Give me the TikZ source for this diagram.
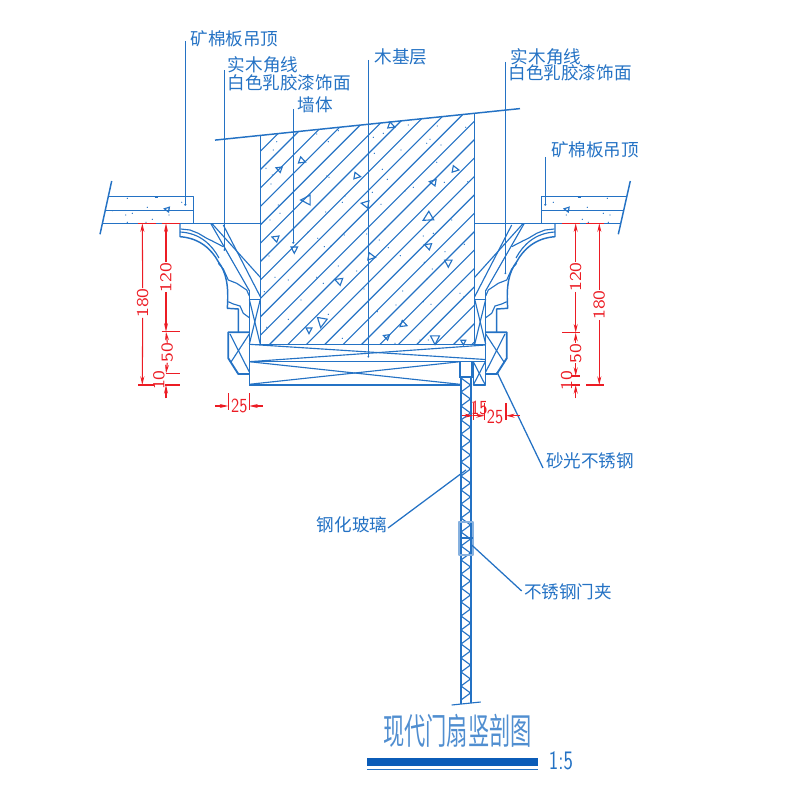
\documentclass[tikz,border=0pt]{standalone}
\usepackage{fontspec}
\newfontfamily\cjk{Noto Sans CJK SC}
\usetikzlibrary{arrows.meta}
\definecolor{cadblue}{HTML}{2472C4}
\definecolor{cadred}{HTML}{EC1C24}
\definecolor{barblue}{HTML}{0B5CB8}
\tikzset{
  part/.style={draw=cadblue, line width=1.1pt, line join=round},
  thin part/.style={draw=cadblue, line width=.85pt},
  leader/.style={draw=cadblue, line width=.95pt},
  dim/.style={draw=cadred, line width=.8pt},
  dimtip/.style={dim, -{Stealth[length=6.5pt,width=3pt,cadred]}},
  label/.style={text=cadblue, font=\cjk\fontsize{13.2}{14}\selectfont, inner sep=0pt},
  dimtext/.style={text=cadred, font=\sffamily\fontsize{15}{15}\selectfont, inner sep=0pt, xscale=.83},
}
\newcommand{\speck}[2]{\fill[cadblue] (#1,#2) circle[radius=.65];}
\newcommand{\triang}[4]{\draw[thin part] ([shift={(#1,#2)}]#4:#3) -- ([shift={(#1,#2)}]#4+125:#3) -- ([shift={(#1,#2)}]#4+235:#3) -- cycle;}
% one moulding, left hand; the right one is its mirror image
\newcommand{\moulding}{
\draw[part] (180,223.3) -- (180,236.7) .. controls (200,238) and (212,250) .. (218.3,261.7)
  .. controls (226,272) and (229,285) .. (227.3,308.3) -- (238.3,309) -- (238.3,332.3);
\draw[thin part] (180,232) .. controls (200,233) and (212,245) .. (219,258);
\draw[thin part] (180.7,229) -- (190,230) -- (198.3,233.3) -- (206.7,238.3) -- (211.7,240.7) -- (223.3,246.7);
\draw[thin part] (218.3,263.3) -- (223.3,269) -- (228.3,280) -- (236.7,283.3) -- (246.7,290) -- (249.3,296);
\draw[thin part] (228.3,301.7) -- (233.3,304) -- (240,306) -- (243.3,313.3) -- (249.3,317.7);
\draw[thin part] (211.7,223.3) -- (260.3,277.3);
\draw[thin part] (210.7,223.3) -- (249.3,290.7);
\draw[thin part] (223.3,225) -- (260.3,296.7);
\draw[part] (249.3,290) -- (249.3,344.3);
\draw[part] (249.3,299.3) -- (260.3,299.3);
\draw[thin part] (249.3,299.3) -- (260.3,344.3);
\draw[thin part] (260.3,299.3) -- (249.3,344.3);
\draw[part, line width=1.4pt] (249.3,332.3) -- (228.3,332.3) -- (228.3,358.3) -- (238.3,374) -- (249.3,374);
\draw[thin part] (230,334) -- (249.3,372);
\draw[thin part] (249.3,334) -- (231,362);
}
\begin{document}
\begin{tikzpicture}[x=.75pt,y=-.75pt]
\useasboundingbox (0,0) rectangle (804,806);
% wall
\begin{scope}
\clip (260.3,135.5) -- (474.3,113.3) -- (474.3,344.3) -- (260.3,344.3) -- cycle;
\foreach \k in {-12,...,11}{
  \pgfmathsetmacro{\c}{614+18.4*\k}
  \draw[thin part] (\c-90,90) -- (\c-360,360);
}
\end{scope}
\draw[part] (215,140.1) -- (520,108.6);
\draw[part] (260.3,135.5) -- (260.3,344.3);
\draw[part] (474.3,113.3) -- (474.3,344.3);
\foreach \x/\y/\r/\a in {
  279.3/169/3.6/200, 301.7/160.7/4/20, 306.7/200/6/180, 356.7/176/4/10, 365.7/204/4.5/190,
  275.7/238.3/4/200, 294.3/249.3/4/90, 339/281/4.5/200, 371/256.7/4.5/10, 428.3/217.3/6/150,
  428.3/246/4/200, 448.3/262.7/4.5/90, 433.3/182.3/4/190, 455/169.3/4/10, 391/125.7/4/20,
  309/330/3.6/90, 321.7/321.7/6/100, 386.7/336.7/3.5/200, 403.3/324.3/4/20, 435/339/5.5/90, 463.3/342/3/90}
  {\triang{\x}{\y}{\r}{\a}}
\foreach \x/\y in {
  276.7/141.7, 273.3/150, 266/168.3, 272.3/175, 271/184, 278.3/205, 280/213.3, 270/220,
  269/256, 275/277.3, 288.3/280, 264.3/291.7, 301/300, 288.3/319.3, 266.7/327.3, 316.7/134,
  328.3/141.7, 338.3/130.7, 326.7/176, 329/177.3, 345/196, 342.3/202.3, 325.7/212, 307.7/232.3,
  317.7/238.3, 324.3/246.7, 331/246, 344.3/235, 338.3/266, 356.7/271, 364/289, 323.3/283.3,
  316.7/277.3, 328.3/314.3, 342.3/338.3, 373.3/137.3, 383.3/133.3, 408.3/125, 437.3/126, 465.7/127.3,
  426.7/143.3, 430/139.3, 441/145, 401/150, 374.3/153.3, 382.3/169.3, 387.3/179.3, 372.3/192.3,
  381/204.3, 405/191, 413.3/187.3, 436.7/162.3, 444.3/182.3, 467.7/181.7, 451.7/220, 385/229,
  379.3/240, 366.7/234, 388.3/247.7, 400.3/255.7, 423.3/236, 433.3/233.3, 464.3/244.3, 445/251.7,
  424.3/262.3, 432.3/269, 426.7/279.3, 402.7/291, 460/293.3, 464/296.7, 423.3/301.7, 431/304.3,
  396/305, 377.3/311.7, 420/340, 428.3/340, 395/343.3}
  {\speck{\x}{\y}}
% left slab
\coordinate (brkL1) at (111.7,181);
\coordinate (brkL2) at (100,234.3);
\draw[part] (brkL1) -- (brkL2);
\draw[part] (109,196.7) -- (193.7,196.7) -- (193.7,223.3);
\draw[part] (105.7,210.3) -- (193.7,210.3);
\draw[part] (102.7,223.3) -- (260.3,223.3);
\draw[thin part] (154.5,197.3) -- (157.5,197.3);
\triang{167.3}{209.3}{3}{190}
\foreach \x/\y in {127.3/198.3, 147.3/207.3, 181.7/202.3, 112.3/210.7, 125.7/215, 132.3/213.3,
  168.7/209, 169/215, 152.3/219.3, 127.3/222.3, 146/222.3}
  {\speck{\x}{\y}}
% right slab
\coordinate (brkR1) at (630.3,181);
\coordinate (brkR2) at (618.3,234.3);
\draw[part] (brkR1) -- (brkR2);
\draw[part] (626,196.7) -- (541.3,196.7) -- (541.3,223.3);
\draw[part] (624,210.3) -- (541.3,210.3);
\draw[part] (621,223.3) -- (474.3,223.3);
\draw[thin part] (577.5,197.3) -- (580.5,197.3);
\triang{567}{209.3}{3}{190}
\foreach \x/\y in {553.3/202.3, 607.3/198.3, 587.3/207.3, 566.3/215, 603.3/213.3, 610/215,
  582.3/219.3, 588.3/222.3, 608.3/222.3}
  {\speck{\x}{\y}}
% mouldings
\moulding
\begin{scope}[shift={(735,0)},xscale=-1]
\moulding
\end{scope}
% boards
\draw[part] (249.3,344.3) rectangle (485.3,361.7);
\draw[thin part] (249.3,344.3) -- (485.3,359.5);
\draw[thin part] (249.3,361.7) -- (485.3,345);
\draw[part] (249.3,361.7) -- (249.3,384.6);
\draw[part, line width=1.4pt] (249.3,384.6) -- (460,384.6);
\draw[thin part] (249.3,361.7) -- (460,384.3);
\draw[thin part] (249.3,384.3) -- (460,361.7);
\draw[part] (473.3,361.7) rectangle (485.3,385);
\draw[thin part] (473.3,361.7) -- (485.3,385);
\draw[thin part] (485.3,361.7) -- (473.3,385);
\draw[part, line width=1.3pt] (460,361.7) -- (460,377);
\draw[part, line width=1.3pt] (471.7,361.7) -- (471.7,377);
% glass
\draw[part, line width=1.4pt] (459,377) -- (473,377);
\draw[part, line width=1.3pt] (460.7,377) -- (460.7,703.8);
\draw[part, line width=1.3pt] (471,377) -- (471,702.7);
\foreach \i in {0,2,...,44}{
  \draw[thin part] (461,378+7*\i) -- (470.5,378+7*\i+7) -- (461,378+7*\i+14);
}
\coordinate (brkG1) at (451.7,705);
\coordinate (brkG2) at (480.7,702);
\draw[thin part] (brkG1) -- (brkG2);
% door clip
\draw[part, draw=cadblue!55, line width=1.5pt] (459,521.7) rectangle (473.3,555);
\draw[part, line width=1.3pt] (460,538) -- (472.5,538);
% leaders
\node[label] (lblCeilL) at (234.5,39) {矿棉板吊顶};
\coordinate (tipCeilL) at (185.3,204.7);
\coordinate (topCeilL) at (185.3,41);
\draw[leader] (topCeilL) -- (tipCeilL);
\fill[cadblue] (tipCeilL) circle[radius=1.2];
\node[label] (lblTrimL) at (263,65) {实木角线};
\node[label] (lblPaintL) at (289,83) {白色乳胶漆饰面};
\coordinate (tipTrimL) at (224.3,250);
\coordinate (topTrimL) at (224.3,70);
\draw[leader] (topTrimL) -- (tipTrimL);
\fill[cadblue] (tipTrimL) circle[radius=1];
\node[label] (lblWall) at (315.5,105) {墙体};
\coordinate (tipWall) at (293.3,242.7);
\coordinate (topWall) at (293.3,109);
\draw[leader] (topWall) -- (tipWall);
\fill[cadblue] (tipWall) circle[radius=1.2];
\node[label] (lblBase) at (401,57) {木基层};
\coordinate (tipBase) at (368.3,356.7);
\coordinate (topBase) at (368.3,60);
\draw[leader] (topBase) -- (tipBase);
\fill[cadblue] (tipBase) circle[radius=1];
\node[label] (lblTrimR) at (546,57) {实木角线};
\node[label] (lblPaintR) at (570,73) {白色乳胶漆饰面};
\coordinate (tipTrimR) at (505.3,273.3);
\coordinate (topTrimR) at (505.3,62);
\draw[leader] (topTrimR) -- (tipTrimR);
\fill[cadblue] (tipTrimR) circle[radius=1];
\node[label] (lblCeilR) at (595,150) {矿棉板吊顶};
\coordinate (tipCeilR) at (545.3,204.7);
\coordinate (topCeilR) at (545.3,157);
\draw[leader] (topCeilR) -- (tipCeilR);
\fill[cadblue] (tipCeilR) circle[radius=1.2];
\node[label] (lblSteel) at (590,461) {砂光不锈钢};
\coordinate (tipSteel) at (497.3,372.7);
\coordinate (endSteel) at (543,468);
\draw[leader] (tipSteel) -- (endSteel);
\fill[cadblue] (tipSteel) circle[radius=1];
\node[label] (lblGlass) at (352,525) {钢化玻璃};
\coordinate (tipGlass) at (466,470);
\coordinate (endGlass) at (388,528);
\draw[leader] (endGlass) -- (tipGlass);
\node[label] (lblClip) at (568,592) {不锈钢门夹};
\coordinate (tipClip) at (471.7,545);
\coordinate (endClip) at (521.7,591);
\draw[leader] (tipClip) -- (endClip);
% dimensions, left
\draw[dim] (138.3,223.3) -- (155.7,223.3);
\draw[dim] (161.7,223.3) -- (180,223.3);
\draw[dim] (161.7,331.7) -- (180,331.7);
\draw[dim] (166,373.3) -- (180,373.3);
\draw[dim] (138.3,385) -- (154,385);
\draw[dim] (165,385) -- (180,385);
\node[dimtext, rotate=90] (dimL180) at (142.7,303) {180};
\node[dimtext, rotate=90] (dimL120) at (166,277.3) {120};
\node[dimtext, rotate=90] (dimL50) at (167.3,352.7) {50};
\node[dimtext, rotate=90] (dimL10) at (159,380) {10};
\draw[dimtip] (dimL180.east) -- (142.3,223.3);
\draw[dimtip] (dimL180.west) -- (142.3,385);
\draw[dimtip] (dimL120.east) -- (166,223.3);
\draw[dimtip] (dimL120.west) -- (166,331.7);
\draw[dimtip] (dimL50.east) -- (166,331.7);
\draw[dimtip] (dimL50.west) -- (166,373.3);
\coordinate (endL10) at (166,398.3);
\draw[dimtip] (endL10) -- (166,385);
% dimensions, right
\draw[dim] (562.3,223.3) -- (580,223.3);
\draw[dim] (586,223.3) -- (604,223.3);
\draw[dim] (562.3,332.7) -- (580,332.7);
\draw[dim] (571,376) -- (580,376);
\draw[dim] (572,385) -- (580,385);
\draw[dim] (586,385) -- (604,385);
\node[dimtext, rotate=90] (dimR120) at (575.7,277) {120};
\node[dimtext, rotate=90] (dimR180) at (599.3,305) {180};
\node[dimtext, rotate=90] (dimR50) at (575.7,353.3) {50};
\node[dimtext, rotate=90] (dimR10) at (566.7,380.7) {10};
\draw[dimtip] (dimR120.east) -- (575.7,223.3);
\draw[dimtip] (dimR120.west) -- (575.7,332.7);
\draw[dimtip] (dimR50.east) -- (575.7,332.7);
\draw[dimtip] (dimR50.west) -- (575.7,376);
\draw[dimtip] (dimR180.east) -- (599.3,223.3);
\draw[dimtip] (dimR180.west) -- (599.3,385);
\coordinate (endR10) at (575.7,398.3);
\draw[dimtip] (endR10) -- (575.7,385);
% dimensions, below
\draw[dim] (228.3,393.3) -- (228.3,410);
\draw[dim] (249.3,393.3) -- (249.3,410);
\node[dimtext] (dimB25) at (239.3,406) {25};
\coordinate (outB1) at (215,406);
\coordinate (outB2) at (262.7,406);
\draw[dimtip] (outB1) -- (228.3,406);
\draw[dimtip] (outB2) -- (249.3,406);
\draw[dim] (473.3,403) -- (473.3,420);
\draw[dim] (484.7,403) -- (484.7,420);
\draw[dim] (506,403) -- (506,420);
\node[dimtext] (dimB15) at (479.3,408) {15};
\node[dimtext] (dimB25r) at (495,416.5) {25};
\coordinate (outC1) at (461.7,415.7);
\coordinate (outC2) at (520,415.7);
\draw[dimtip] (outC1) -- (473.3,415.7);
\draw[dimtip] (473.3,415.7) -- (484.7,415.7);
\draw[dimtip] (outC2) -- (506,415.7);
% title
\node[text=cadblue!80, font=\cjk\fontsize{27}{28}\selectfont, inner sep=0pt, xscale=.59] (lblTitle) at (457.5,731) {现代门扇竖剖图};
\fill[barblue] (367,757.5) rectangle (538.3,766);
\draw[part] (367,769.3) -- (538.3,769.3);
\node[text=cadblue, font=\sffamily\fontsize{20}{20}\selectfont, inner sep=0pt, xscale=.75] (lblScale) at (561,761) {1:5};
\end{tikzpicture}
\end{document}
